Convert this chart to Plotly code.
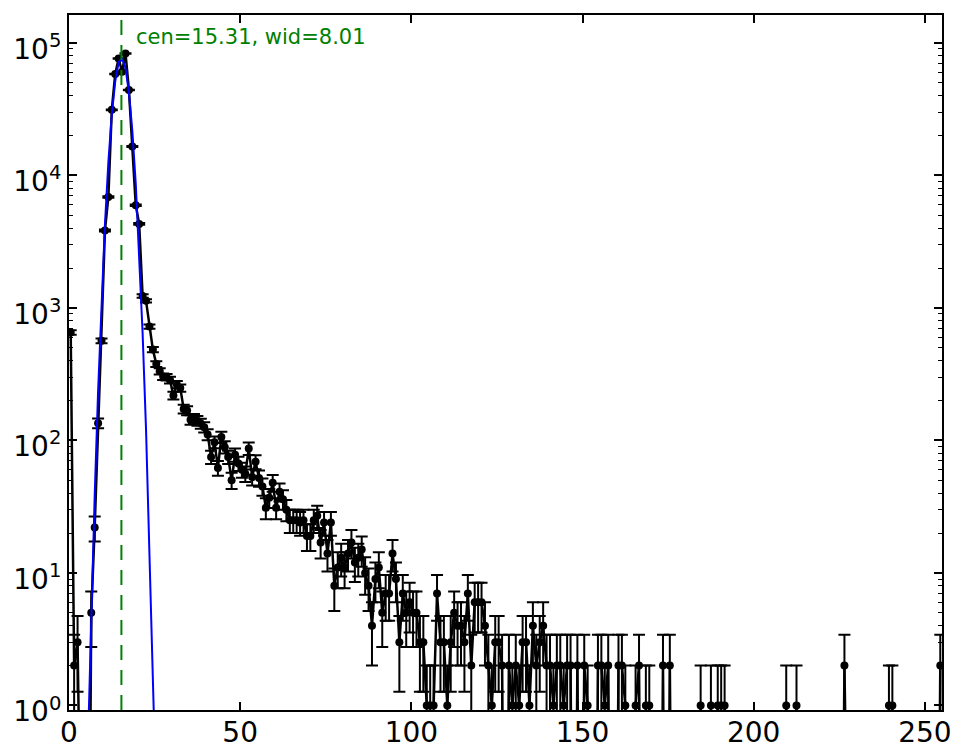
import numpy as np
import plotly.graph_objects as go

# counts per channel, channel k is centred at k + 0.5
counts = [
    652, 2, 3, 0, 0, 0, 5, 22, 135, 565,
    3840, 6870, 31200, 58200, 76200, 60500, 83100, 44100, 16500, 5950,
    4300, 1230, 1130, 723, 485, 377, 332, 303, 300, 286,
    218, 264, 249, 173, 168, 143, 146, 141, 134, 126,
    111, 75, 97, 62, 106, 89, 75, 50, 78, 67,
    60, 56, 87, 53, 69, 52, 45, 31, 37, 48,
    31, 41, 36, 30, 25, 25, 25, 24, 25, 19,
    19, 25, 27, 17, 24, 14, 24, 8, 11, 13,
    11, 14, 17, 12, 13, 15, 10, 8, 4, 9,
    11, 5, 7, 7, 14, 9, 3, 7, 5, 6,
    5, 5, 3, 3, 1, 1, 1, 7, 3, 3,
    1, 3, 5, 4, 4, 3, 7, 2, 6, 6,
    6, 4, 2, 1, 3, 3, 2, 0, 2, 1,
    2, 1, 3, 3, 1, 4, 2, 3, 4, 2,
    2, 1, 2, 2, 1, 2, 2, 0, 2, 0,
    2, 1, 0, 0, 2, 2, 1, 2, 0, 0,
    2, 2, 1, 0, 0, 1, 2, 0, 1, 1,
    0, 0, 0, 2, 0, 2, 0, 0, 0, 0,
    0, 0, 0, 0, 1, 0, 0, 1, 0, 1,
    1, 1, 0, 0, 0, 0, 0, 0, 0, 0,
    0, 0, 0, 0, 0, 0, 0, 0, 0, 1,
    0, 0, 1, 0, 0, 0, 0, 0, 0, 0,
    0, 0, 0, 0, 0, 0, 2, 0, 0, 0,
    0, 0, 0, 0, 0, 0, 0, 0, 0, 1,
    1, 0, 0, 0, 0, 0, 0, 0, 0, 0,
    0, 0, 0, 0, 2,
]

# gaussian fit at channels 5..25
fit_y = [0.47, 4.8, 38, 236, 1140, 4280, 12600, 28700, 51200, 71000, 76700,
         64500, 42300, 21600, 8600, 2670, 644, 121, 17.8, 2.0, 0.18]
cen = 15.31
wid = 8.01

decades = [0, 1, 2, 3, 4, 5]

x = np.arange(len(counts)) + 0.5
y = np.array(counts, dtype=float)
err = np.sqrt(y)
# empty channels fall off the bottom of the log axis like in matplotlib
y_plot = np.where(y > 0, y, 1e-3)
fit_x = x[5:5 + len(fit_y)]

minor_vals = [k * 10 ** d for d in decades for k in range(2, 10)]

fig = go.Figure()
fig.add_trace(go.Scatter(
    x=x, y=y_plot, mode='lines+markers',
    line=dict(color='black', width=2.5),
    marker=dict(color='black', size=8),
    error_y=dict(type='data', array=err, color='black', thickness=2, width=6),
    showlegend=False,
))
fig.add_trace(go.Scatter(
    x=fit_x, y=fit_y, mode='lines',
    line=dict(color='blue', width=2),
    showlegend=False,
))
fig.add_shape(type='line', x0=cen, x1=cen, y0=0, y1=1, xref='x', yref='paper',
              line=dict(color='green', width=2, dash='15px,10px'))
fig.add_annotation(x=19.1, y=0.968, xref='x', yref='paper',
                   text='cen=%.2f, wid=%.2f' % (cen, wid),
                   showarrow=False, xanchor='left', yanchor='middle',
                   font=dict(color='green', size=21))

fig.update_xaxes(
    range=[0, 255], tickvals=[0, 50, 100, 150, 200, 250],
    ticks='inside', ticklen=8, tickwidth=1.5, tickcolor='black',
    showline=True, linecolor='black', linewidth=2, mirror='allticks',
    showgrid=False, zeroline=False, automargin=False,
    tickfont=dict(size=28, color='black'),
    ticklabelstandoff=-4,
)
fig.update_yaxes(
    type='log', range=[-0.034, 5.21],
    tickvals=[10 ** d for d in decades],
    ticktext=['10<sup>%d</sup>' % d for d in decades],
    ticks='inside', ticklen=8, tickwidth=1.5, tickcolor='black',
    minor=dict(tickmode='array', tickvals=minor_vals, ticks='inside',
               ticklen=4, tickwidth=1, tickcolor='black'),
    showline=True, linecolor='black', linewidth=2, mirror='allticks',
    showgrid=False, zeroline=False, automargin=False,
    tickfont=dict(size=28, color='black'),
    ticklabelshift=6,
)
# the page adds an 8px body margin, so the figure is a bit smaller than the window
fig.update_layout(
    width=949, height=748,
    margin=dict(l=61, r=15, t=7, b=46),
    plot_bgcolor='white', paper_bgcolor='white',
    font=dict(family='DejaVu Sans', color='black'),
)
fig.write_html('out.html')
